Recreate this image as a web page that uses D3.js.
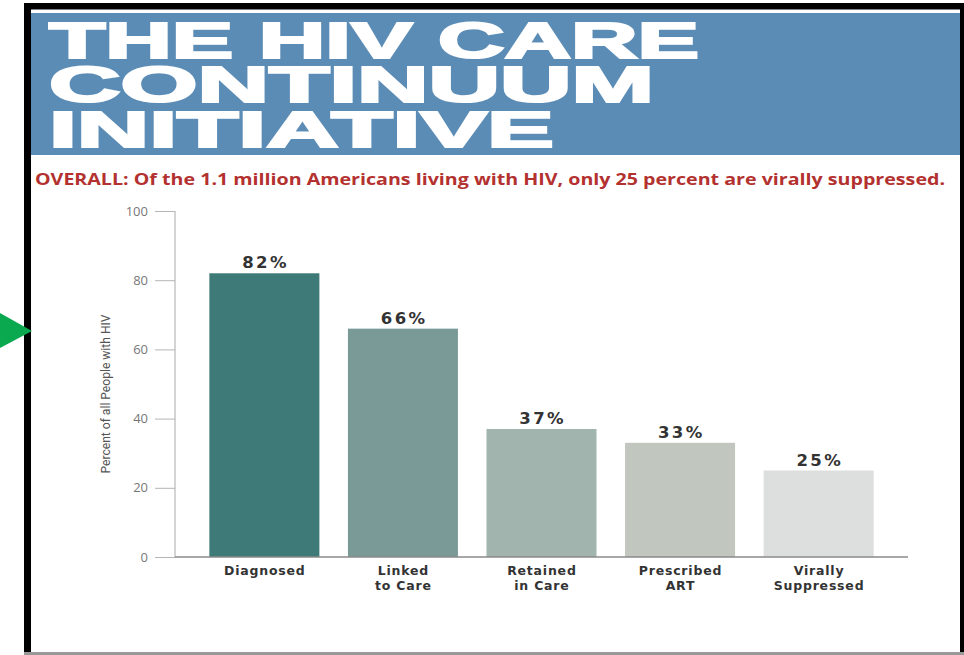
<!DOCTYPE html>
<html>
<head>
<meta charset="utf-8">
<script src="https://cdn.jsdelivr.net/npm/d3@7"></script>
<style>
  html, body { margin: 0; padding: 0; background: #fff; }
  svg { display: block; }
</style>
</head>
<body>
<svg id="chart" width="964" height="655"></svg>
<script>
// ---- data ----
const categories = [["Diagnosed"], ["Linked", "to Care"], ["Retained", "in Care"], ["Prescribed", "ART"], ["Virally", "Suppressed"]];
const values = [82, 66, 37, 33, 25];
const barColors = ["#3e7b78", "#7a9a98", "#a1b4ae", "#c1c6be", "#dcdfde"];
const yTicks = [0, 20, 40, 60, 80, 100];
const titleLines = ["THE HIV CARE", "CONTINUUM", "INITIATIVE"];
const subtitle = "OVERALL: Of the 1.1 million Americans living with HIV, only 25 percent are virally suppressed.";
const yLabel = "Percent of all People with HIV";

const svg = d3.select("#chart");

// frame
svg.append("rect").attr("x", 0).attr("y", 0).attr("width", 964).attr("height", 655).attr("fill", "#fff");
svg.append("rect").attr("x", 24).attr("y", 3).attr("width", 940).attr("height", 6.5).attr("fill", "#000");
svg.append("rect").attr("x", 24).attr("y", 3).attr("width", 7).attr("height", 650).attr("fill", "#000");
svg.append("rect").attr("x", 960).attr("y", 3).attr("width", 4).attr("height", 650).attr("fill", "#000");
svg.append("rect").attr("x", 24).attr("y", 652).attr("width", 940).attr("height", 3).attr("fill", "#999");

// header band
svg.append("rect").attr("x", 31).attr("y", 13).attr("width", 929).attr("height", 142).attr("fill", "#5b8cb6");
const titleWidths = [650, 605, 505];
const titleBase = [59, 103, 148];
const title = svg.append("text")
  .attr("font-family", "Liberation Sans, Arial, sans-serif")
  .attr("font-weight", "bold")
  .attr("font-size", 50)
  .attr("fill", "#fff")
  .attr("stroke", "#fff")
  .attr("stroke-width", 2.2)
  .attr("stroke-linejoin", "miter");
title.selectAll("tspan").data(titleLines).join("tspan")
  .attr("x", 49)
  .attr("y", (d, i) => titleBase[i] - 1)
  .attr("textLength", (d, i) => titleWidths[i])
  .attr("lengthAdjust", "spacingAndGlyphs")
  .text(d => d);

// subtitle
svg.append("text")
  .attr("x", 35).attr("y", 185)
  .attr("textLength", 910).attr("lengthAdjust", "spacingAndGlyphs")
  .attr("font-family", "Open Sans").attr("font-weight", "bold").attr("font-size", 16.5)
  .attr("fill", "#b3312f")
  .text(subtitle);

// scales
const x = d3.scaleBand().domain(d3.range(values.length)).range([175, 908]).paddingInner(0.206).paddingOuter(0.248);
const y = d3.scaleLinear().domain([0, 100]).range([557, 211]);

// y axis
const yAxis = d3.axisLeft(y).tickValues(yTicks).tickSize(20).tickPadding(7);
const gy = svg.append("g").attr("transform", "translate(175,0)").call(yAxis);
gy.select(".domain").attr("stroke", "#aaa").attr("d", `M0,${y(100)}V${y(0)}`);
gy.selectAll(".tick line").attr("stroke", "#b5b5b5");
gy.selectAll(".tick text").attr("fill", "#777").attr("font-family", "Open Sans").attr("font-size", 13);

// y label
svg.append("text")
  .attr("transform", `translate(110,${(y(100) + y(0)) / 2 + 10}) rotate(-90)`)
  .attr("text-anchor", "middle")
  .attr("textLength", 159).attr("lengthAdjust", "spacingAndGlyphs")
  .attr("font-family", "Liberation Sans Narrow, Roboto, sans-serif").attr("font-size", 13)
  .attr("fill", "#555")
  .text(yLabel);

// bars
svg.selectAll("rect.bar").data(values).join("rect")
  .attr("class", "bar")
  .attr("x", (d, i) => x(i))
  .attr("width", x.bandwidth())
  .attr("y", d => y(d))
  .attr("height", d => y(0) - y(d))
  .attr("fill", (d, i) => barColors[i]);

// x baseline
svg.append("line").attr("x1", 175).attr("x2", 908).attr("y1", y(0)).attr("y2", y(0))
  .attr("stroke", "#8a8a8a").attr("stroke-width", 1.5);

// value labels
svg.selectAll("text.val").data(values).join("text")
  .attr("class", "val")
  .attr("x", (d, i) => x(i) + x.bandwidth() / 2 + 1.2)
  .attr("y", d => y(d) - 5)
  .attr("text-anchor", "middle")
  .attr("font-family", "DejaVu Sans").attr("font-weight", "bold").attr("font-size", 16.5)
  .attr("letter-spacing", 2.4)
  .attr("fill", "#333")
  .text(d => d + "%");

// category labels
const cat = svg.selectAll("text.cat").data(categories).join("text")
  .attr("class", "cat")
  .attr("text-anchor", "middle")
  .attr("font-family", "DejaVu Sans").attr("font-weight", "bold").attr("font-size", 12.5)
  .attr("letter-spacing", 0.8)
  .attr("fill", "#333");
cat.selectAll("tspan").data((d, i) => d.map(t => ({ t, i }))).join("tspan")
  .attr("x", d => x(d.i) + x.bandwidth() / 2 + 0.4)
  .attr("y", (d, j) => 575 + j * 15)
  .text(d => d.t);

// green pointer
svg.append("path").attr("d", "M0,313L32,331L0,348Z").attr("fill", "#0aa84f");
</script>
</body>
</html>
